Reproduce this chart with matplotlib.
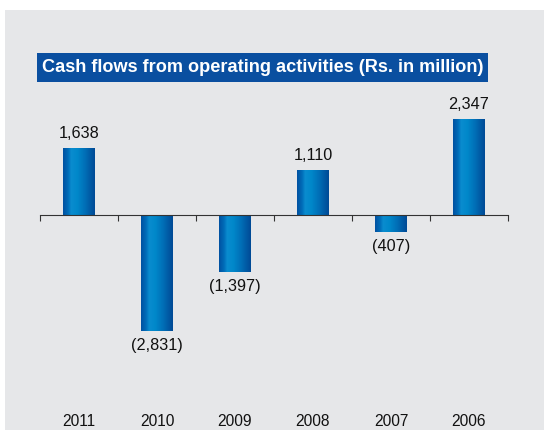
import numpy as np
import matplotlib.pyplot as plt
from matplotlib.colors import LinearSegmentedColormap
from matplotlib.patches import Rectangle

years = ['2011', '2010', '2009', '2008', '2007', '2006']
values = [1638, -2831, -1397, 1110, -407, 2347]
labels = ['1,638', '(2,831)', '(1,397)', '1,110', '(407)', '2,347']

plt.rcParams['font.family'] = ['Liberation Sans', 'DejaVu Sans']

fig = plt.figure(figsize=(5.44, 4.30), dpi=100)
fig.patch.set_facecolor('white')
# grey panel
fig.patches.append(Rectangle((5 / 544, 0), 1, 420 / 430, transform=fig.transFigure,
                             facecolor='#e6e7e9', edgecolor='none', zorder=-2))
# title box
fig.patches.append(Rectangle((37 / 544, 1 - 82 / 430), 451 / 544, 29 / 430,
                             transform=fig.transFigure, facecolor='#0a4fa0',
                             edgecolor='none', zorder=-1))

ax = fig.add_axes([40 / 544, 0.0719, 468 / 544, 0.6944])
ax.set_facecolor('none')

# bar gradient: dark edges, light middle
cmap = LinearSegmentedColormap.from_list('barblue', [
    (0.0, '#0052a2'), (0.15, '#006cb8'), (0.25, '#0a8ccf'), (0.45, '#0088ca'),
    (0.7, '#006eb6'), (1.0, '#004a96')])
grad = np.linspace(0, 1, 64).reshape(1, -1)

x = np.arange(len(values))
bars = ax.bar(x, values, width=0.4, color='none', edgecolor='none')
for b in bars:
    x0, w = b.get_x(), b.get_width()
    y0, h = b.get_y(), b.get_height()
    im = ax.imshow(grad, cmap=cmap, aspect='auto', extent=(x0, x0 + w, y0, y0 + h),
                   zorder=2)
    im.set_clip_path(b)

ax.set_xlim(-0.5, 5.5)
ax.set_ylim(-4500, 2800)

for xi, v, lab in zip(x, values, labels):
    if v >= 0:
        ax.text(xi, v + 170, lab, ha='center', va='bottom', fontsize=11.7, color='#111111')
    else:
        ax.text(xi, v - 170, lab, ha='center', va='top', fontsize=11.7, color='#111111')

for xi, yr in zip(x, years):
    ax.text(xi, -0.075, yr, transform=ax.get_xaxis_transform(), ha='center', va='center',
            fontsize=11.2, color='#111111')

for s in ['top', 'right', 'left']:
    ax.spines[s].set_visible(False)
ax.spines['bottom'].set_position(('data', 0))
ax.spines['bottom'].set_color('#333333')
ax.spines['bottom'].set_zorder(3)
ax.set_xticks(np.arange(-0.5, 6, 1))
ax.tick_params(axis='x', direction='out', length=4, color='#333333', labelbottom=False)
ax.set_yticks([])

fig.text(263 / 544, 1 - 68 / 430, 'Cash flows from operating activities (Rs. in million)',
         ha='center', va='center', fontsize=13.1, fontweight='bold', color='white')

fig.savefig('out.png', dpi=100)
